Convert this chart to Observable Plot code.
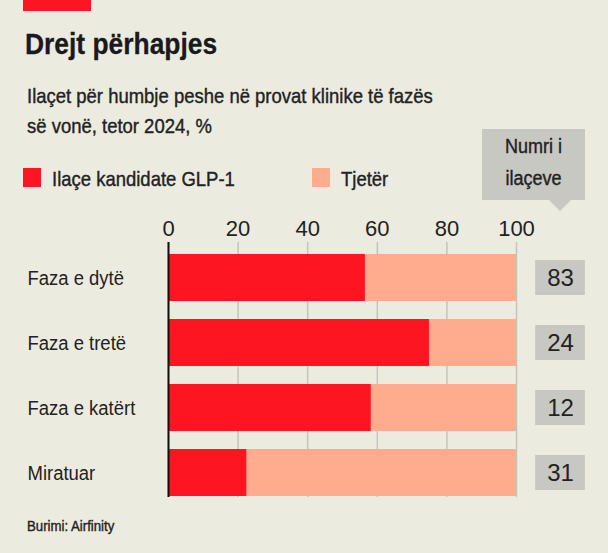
<!DOCTYPE html>
<html>
<head>
<meta charset="utf-8">
<script src="https://cdn.jsdelivr.net/npm/d3@7"></script>
<script src="https://cdn.jsdelivr.net/npm/@observablehq/plot@0.6"></script>
<style>
  html, body { margin: 0; padding: 0; background: #ecebe0; }
  #wrap { position: relative; width: 608px; height: 553px; background: #ecebe0; overflow: hidden;
          font-family: "Liberation Sans", Arial, sans-serif; color: #222; }
  .abs { position: absolute; white-space: nowrap; }
  .cond { transform: scaleX(0.88); transform-origin: 0 0; }
  .med { -webkit-text-stroke: 0.4px #222; }
  #topbar { left: 23px; top: 0; width: 68px; height: 11px; background: #fe1522; }
  #title { left: 25px; top: 29px; font-size: 30px; line-height: 30px; font-weight: bold; color: #1a1a1a;
           -webkit-text-stroke: 0.3px #1a1a1a; }
  #subtitle { left: 27px; top: 81px; font-size: 21px; line-height: 30px; }
  .sw { position: absolute; width: 18px; height: 19px; top: 168px; }
  .lg { top: 168px; font-size: 21px; line-height: 21px; }
  #numri { left: 482px; top: 129px; width: 103px; height: 71px; background: #c8c8c2; }
  #numri div { position: absolute; left: 0; width: 103px; text-align: center; font-size: 20px; line-height: 20px;
               transform: scaleX(0.9); transform-origin: 50% 0; -webkit-text-stroke: 0.4px #222; }
  #numri:after { content: ""; position: absolute; left: 67px; top: 71px; width: 0; height: 0;
                 border-left: 11px solid transparent; border-right: 11px solid transparent; border-top: 11px solid #c8c8c2; }
  #caption { left: 27px; top: 518px; font-size: 15px; line-height: 15px; }
  #chart { position: absolute; left: 0; top: 0; }
</style>
</head>
<body>
<div id="wrap">
  <div id="chart"></div>
  <div id="topbar" class="abs"></div>
  <div id="title" class="abs cond">Drejt përhapjes</div>
  <div id="subtitle" class="abs cond med">Ilaçet për humbje peshe në provat klinike të fazës<br>së vonë, tetor 2024, %</div>
  <div id="legend"></div>
  <div id="numri" class="abs"><div style="top:7px">Numri i</div><div style="top:39px">ilaçeve</div></div>
  <div id="caption" class="abs cond med">Burimi: Airfinity</div>
</div>
<script>
// ---- data ----
const stages = ["Faza e dytë", "Faza e tretë", "Faza e katërt", "Miratuar"];
const glp1Share = [56.6, 75.0, 58.3, 22.6];
const otherShare = [43.4, 25.0, 41.7, 77.4];
const drugCounts = [83, 24, 12, 31];
const seriesNames = ["Ilaçe kandidate GLP-1", "Tjetër"];
const seriesColors = ["#fe1522", "#ffab8e"];
const xTicks = [0, 20, 40, 60, 80, 100];

// legend (HTML)
const legend = document.getElementById("legend");
const legendPos = [{sw: 23, tx: 52}, {sw: 312, tx: 341}];
seriesNames.forEach((name, i) => {
  const s = document.createElement("div");
  s.className = "sw";
  s.style.left = legendPos[i].sw + "px";
  s.style.background = seriesColors[i];
  legend.appendChild(s);
  const t = document.createElement("div");
  t.className = "abs lg cond med";
  t.style.left = legendPos[i].tx + "px";
  t.textContent = name;
  legend.appendChild(t);
});

const rows = [];
stages.forEach((st, i) => {
  rows.push({stage: st, series: seriesNames[0], value: glp1Share[i]});
  rows.push({stage: st, series: seriesNames[1], value: otherShare[i]});
});
const counts = stages.map((st, i) => ({stage: st, count: drugCounts[i]}));

const plot = Plot.plot({
  width: 608,
  height: 553,
  marginLeft: 168,
  marginRight: 92,
  marginTop: 242,
  marginBottom: 56,
  style: {background: "transparent", fontFamily: "'Liberation Sans', Arial, sans-serif", color: "#222", overflow: "visible"},
  x: {domain: [0, 100], axis: null, label: null},
  y: {domain: stages, paddingInner: 18 / 65, paddingOuter: 0.1, align: 0.9, axis: null, label: null},
  color: {domain: seriesNames, range: seriesColors},
  marks: [
    Plot.gridX({ticks: xTicks, stroke: "#c4c4bd", strokeOpacity: 1, strokeWidth: 1.5}),
    Plot.barX(rows, Plot.stackX({x: "value", y: "stage", fill: "series"})),
    Plot.ruleX([0], {stroke: "#111", strokeWidth: 2}),
    Plot.axisX({anchor: "top", ticks: xTicks, tickSize: 0, tickPadding: 7, fontSize: 22, label: null,
                tickFormat: d => String(d), fill: "#222"}),
    Plot.axisY({anchor: "left", tickSize: 0, tickPadding: 141, textAnchor: "start", fontSize: 21, label: null,
                fill: "#222", stroke: "#222", strokeWidth: 0.4}),
    Plot.barX(counts, {y: "stage", x1: () => 105.5, x2: () => 119.8, fill: "#c8c8c2", insetTop: 6, insetBottom: 6}),
    Plot.text(counts, {y: "stage", x: () => 112.65, text: d => String(d.count), fontSize: 24, fill: "#222"})
  ]
});
document.getElementById("chart").appendChild(plot);
d3.select(plot).selectAll('g[aria-label="y-axis tick label"] text').each(function () {
  const t = this.getAttribute("transform") || "";
  this.setAttribute("transform", t + " scale(0.88,1)");
});
</script>
</body>
</html>
